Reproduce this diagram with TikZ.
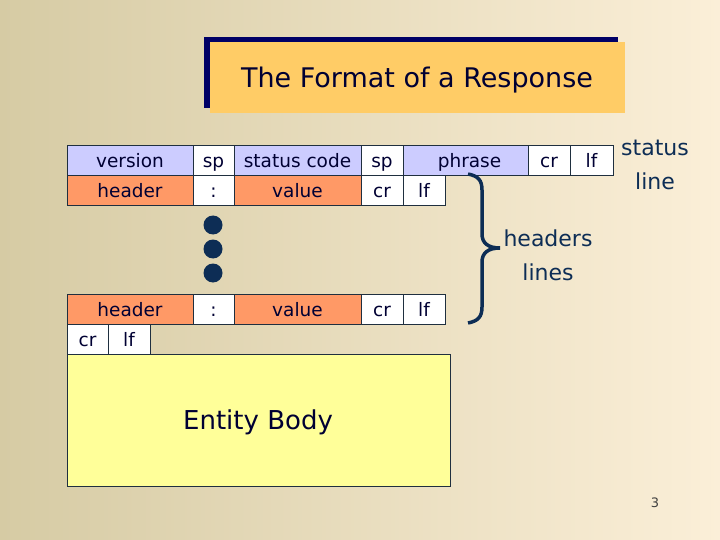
\documentclass[tikz,border=0pt]{standalone}
\usepackage{fontspec}
\setmainfont{DejaVu Sans}
\definecolor{bgL}{HTML}{D6CBA4}
\definecolor{bgR}{HTML}{FBEFD8}
\definecolor{navy}{HTML}{000066}
\definecolor{titlebg}{HTML}{FFCC66}
\definecolor{txt}{HTML}{000033}
\definecolor{lav}{HTML}{CCCCFF}
\definecolor{orng}{HTML}{FF9966}
\definecolor{ylw}{HTML}{FFFF99}
\definecolor{dblue}{HTML}{0D2D55}
\definecolor{edge}{HTML}{1F2F3F}
\tikzset{
  cellbox/.style={draw=edge, line width=0.8pt, inner sep=0pt, minimum height=30pt, text=txt,
                  text height=16.5pt, text depth=1pt,
                  font=\fontsize{18.5}{20}\selectfont},
  lavcell/.style={cellbox, fill=lav},
  orcell/.style={cellbox, fill=orng},
  whcell/.style={cellbox, fill=white},
  sidelabel/.style={align=center, text=dblue, font=\fontsize{22}{34}\selectfont},
  dotmark/.style={circle, fill=dblue, minimum size=19pt, inner sep=0pt},
}
\begin{document}
\begin{tikzpicture}[x=1pt,y=-1pt]
\useasboundingbox (0,0) rectangle (720,540);
\shade[left color=bgL, right color=bgR] (0,0) rectangle (720,540);
% title
\fill[navy] (204,37) rectangle (618,108);
\fill[titlebg] (210,42) rectangle (625,113);
\node[text=txt, font=\fontsize{27}{30}\selectfont] (title) at (417,80) {The Format of a Response};
% status line
\node[lavcell, minimum width=126pt] (version) at (130,160) {version};
\node[whcell, minimum width=41pt] (sp1) at (213.5,160) {sp};
\node[lavcell, minimum width=127pt] (scode) at (297.5,160) {status code};
\node[whcell, minimum width=42pt] (sp2) at (382,160) {sp};
\node[lavcell, minimum width=125pt] (phrase) at (465.5,160) {\hspace*{8pt}phrase};
\node[whcell, minimum width=42pt] (cr1) at (549,160) {cr};
\node[whcell, minimum width=43pt] (lf1) at (591.5,160) {lf};
% first header line
\node[orcell, minimum width=126pt] (h1) at (130,190) {header};
\node[whcell, minimum width=41pt] (c1) at (213.5,190) {:};
\node[orcell, minimum width=127pt] (v1) at (297.5,190) {value};
\node[whcell, minimum width=42pt] (cr2) at (382,190) {cr};
\node[whcell, minimum width=42pt] (lf2) at (424,190) {lf};
% dots
\node[dotmark] (d1) at (213,225) {};
\node[dotmark] (d2) at (213,249) {};
\node[dotmark] (d3) at (213,273) {};
% last header line
\node[orcell, minimum width=126pt] (h2) at (130,309) {header};
\node[whcell, minimum width=41pt] (c2) at (213.5,309) {:};
\node[orcell, minimum width=127pt] (v2) at (297.5,309) {value};
\node[whcell, minimum width=42pt] (cr3) at (382,309) {cr};
\node[whcell, minimum width=42pt] (lf3) at (424,309) {lf};
% empty line
\node[whcell, minimum width=41pt] (cr4) at (87.5,339) {cr};
\node[whcell, minimum width=42pt] (lf4) at (129,339) {lf};
% entity body
\node[draw=edge, line width=0.8pt, fill=ylw, minimum width=383pt, minimum height=132pt, inner sep=0pt] (body) at (258.5,420) {};
\node[text=txt, font=\fontsize{26}{30}\selectfont] (bodytxt) at (258,422) {Entity Body};
% brace
\draw[dblue, line width=3.5pt] (468,174) .. controls (478,176) and (482,180) .. (482,190)
  -- (482,234) .. controls (482,243) and (488,248) .. (500,248)
  .. controls (488,248) and (482,253) .. (482,262)
  -- (482,307) .. controls (482,317) and (478,321) .. (468,323);
% labels
\node[sidelabel] (slabel) at (655,165) {status\\line};
\node[sidelabel] (hlabel) at (548,255) {headers\\lines};
\node[text=black!75, font=\fontsize{13}{15}\selectfont] (pnum) at (655,503) {3};
\end{tikzpicture}
\end{document}
